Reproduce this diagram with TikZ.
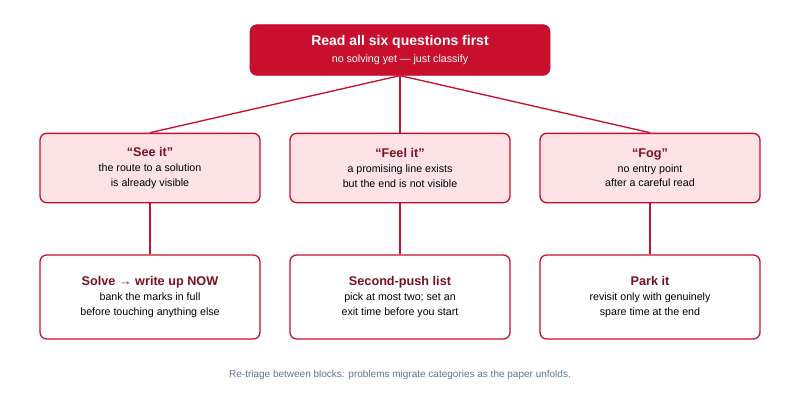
\documentclass[tikz,border=0pt]{standalone}
\usepackage{fontspec}
\setmainfont{Liberation Sans}
\usetikzlibrary{positioning}
\definecolor{crimson}{HTML}{C8102E}
\definecolor{pinkfill}{HTML}{FDE3E5}
\definecolor{darkred}{HTML}{7A1020}
\definecolor{notegray}{HTML}{5B7590}
\begin{document}
\begin{tikzpicture}[x=0.75pt, y=-0.75pt,
    root/.style={rectangle, rounded corners=5pt, fill=crimson, draw=crimson, minimum width=225pt, minimum height=38pt, align=center, text=white},
    kind/.style={rectangle, rounded corners=5pt, draw=crimson, line width=1pt, fill=pinkfill, minimum width=165pt, minimum height=52pt, align=center, font=\fontsize{8}{11}\selectfont},
    act/.style={rectangle, rounded corners=5pt, draw=crimson, line width=1pt, fill=white, minimum width=165pt, minimum height=63pt, align=center, font=\fontsize{8}{11}\selectfont},
    link/.style={draw=crimson, line width=1pt}
]
\useasboundingbox (0,0) rectangle (800,400);

% Root
\node[root] (read) at (400,50) {{\bfseries\fontsize{10.5}{13}\selectfont Read all six questions first}\\[1pt]{\fontsize{8}{10}\selectfont no solving yet — just classify}};

% Categories
\node[kind] (see) at (150,168) {{\bfseries\color{darkred}\fontsize{9.5}{12}\selectfont “See it”}\\the route to a solution\\is already visible};
\node[kind] (feel) at (400,168) {{\bfseries\color{darkred}\fontsize{9.5}{12}\selectfont “Feel it”}\\a promising line exists\\but the end is not visible};
\node[kind] (fog) at (650,168) {{\bfseries\color{darkred}\fontsize{9.5}{12}\selectfont “Fog”}\\no entry point\\after a careful read};

% Actions
\node[act] (solve) at (150,297) {{\bfseries\color{darkred}\fontsize{9.5}{12}\selectfont Solve → write up NOW}\\bank the marks in full\\before touching anything else};
\node[act] (push) at (400,297) {{\bfseries\color{darkred}\fontsize{9.5}{12}\selectfont Second-push list}\\pick at most two; set an\\exit time before you start};
\node[act] (park) at (650,297) {{\bfseries\color{darkred}\fontsize{9.5}{12}\selectfont Park it}\\revisit only with genuinely\\spare time at the end};

% Links
\draw[link] (read.south) -- (see.north);
\draw[link] (read.south) -- (feel.north);
\draw[link] (read.south) -- (fog.north);
\draw[link] (see) -- (solve);
\draw[link] (feel) -- (push);
\draw[link] (fog) -- (park);

% Note
\node[font=\fontsize{7.5}{9}\selectfont, text=notegray] (note) at (400,375) {Re-triage between blocks: problems migrate categories as the paper unfolds.};
\end{tikzpicture}
\end{document}
